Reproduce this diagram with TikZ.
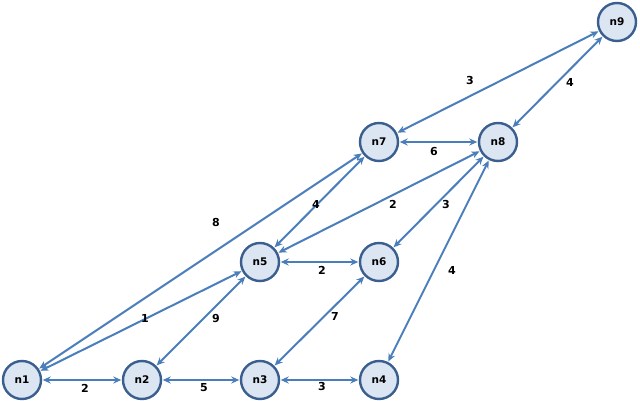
\documentclass[tikz,border=0pt]{standalone}
\usepackage{fontspec}
\setmainfont{DejaVu Sans}
\usetikzlibrary{arrows.meta}
\definecolor{nodefill}{HTML}{DCE6F2}
\definecolor{nodeborder}{HTML}{3A5F8F}
\definecolor{edgecol}{HTML}{4A7EBB}
\begin{document}
\begin{tikzpicture}[x=1pt,y=-1pt,
  vert/.style={circle,draw=nodeborder,fill=nodefill,line width=2.4pt,minimum size=38pt,inner sep=0pt,font=\fontsize{10.5}{12}\selectfont\bfseries},
  edge/.style={draw=edgecol,line width=2pt,{Stealth[length=8pt,width=7pt]}-{Stealth[length=8pt,width=7pt]},shorten <=0.5pt,shorten >=0.5pt},
  lab/.style={font=\fontsize{11}{13}\selectfont\bfseries,inner sep=1pt}]
\useasboundingbox (0,0) rectangle (640,401);
\node[vert] (n1) at (22,380) {n1};
\node[vert] (n2) at (142,380) {n2};
\node[vert] (n3) at (260,380) {n3};
\node[vert] (n4) at (379,380) {n4};
\node[vert] (n5) at (260,262) {n5};
\node[vert] (n6) at (379,262) {n6};
\node[vert] (n7) at (379,142) {n7};
\node[vert] (n8) at (498,142) {n8};
\node[vert] (n9) at (617,22) {n9};
\draw[edge] (n1) -- (n2);
\draw[edge] (n2) -- (n3);
\draw[edge] (n3) -- (n4);
\draw[edge] (n1) -- (n5);
\draw[edge] (n1) -- (n7);
\draw[edge] (n2) -- (n5);
\draw[edge] (n3) -- (n6);
\draw[edge] (n4) -- (n8);
\draw[edge] (n5) -- (n6);
\draw[edge] (n5) -- (n7);
\draw[edge] (n5) -- (n8);
\draw[edge] (n6) -- (n8);
\draw[edge] (n7) -- (n8);
\draw[edge] (n7) -- (n9);
\draw[edge] (n8) -- (n9);
\node[lab] (l12) at (85,388) {2};
\node[lab] (l23) at (204,388) {5};
\node[lab] (l34) at (322,386) {3};
\node[lab] (l15) at (145,318) {1};
\node[lab] (l17) at (216,222) {8};
\node[lab] (l25) at (216,318) {9};
\node[lab] (l36) at (335,316) {7};
\node[lab] (l48) at (452,270) {4};
\node[lab] (l56) at (322,270) {2};
\node[lab] (l57) at (316,204) {4};
\node[lab] (l58) at (393,204) {2};
\node[lab] (l68) at (446,204) {3};
\node[lab] (l78) at (434,152) {6};
\node[lab] (l79) at (470,80) {3};
\node[lab] (l89) at (570,82) {4};
\end{tikzpicture}
\end{document}
